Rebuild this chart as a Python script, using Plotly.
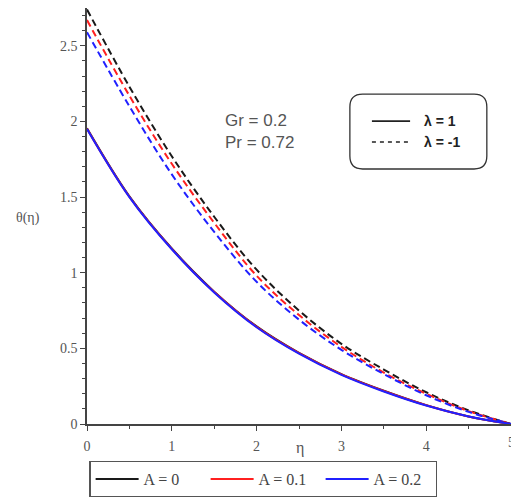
import plotly.graph_objects as go

eta = [0, 0.5, 1, 1.5, 2, 2.5, 3, 3.5, 4, 4.5, 5]

# lambda = 1 (solid)
theta_A0_l1 = [1.955, 1.505, 1.16, 0.875, 0.645, 0.47, 0.33, 0.22, 0.125, 0.05, 0]
theta_A01_l1 = [1.952, 1.502, 1.158, 0.872, 0.642, 0.468, 0.328, 0.218, 0.124, 0.05, 0]
theta_A02_l1 = [1.95, 1.50, 1.155, 0.87, 0.64, 0.465, 0.325, 0.215, 0.122, 0.05, 0]

# lambda = -1 (dashed)
theta_A0_lm1 = [2.74, 2.23, 1.77, 1.37, 1.02, 0.75, 0.53, 0.36, 0.21, 0.09, 0]
theta_A01_lm1 = [2.67, 2.17, 1.72, 1.33, 0.98, 0.72, 0.51, 0.34, 0.20, 0.085, 0]
theta_A02_lm1 = [2.59, 2.10, 1.65, 1.27, 0.94, 0.69, 0.49, 0.33, 0.19, 0.08, 0]

series_names = ["A = 0", "A = 0.1", "A = 0.2"]
colors = ["#1a1a1a", "#ff2020", "#2020ff"]
solid = [theta_A0_l1, theta_A01_l1, theta_A02_l1]
dashed = [theta_A0_lm1, theta_A01_lm1, theta_A02_lm1]

fig = go.Figure()
for name, c, ys in zip(series_names, colors, dashed):
    fig.add_trace(go.Scatter(x=eta, y=ys, mode="lines", line=dict(color=c, width=2, dash="7px,4px", shape="spline"),
                             showlegend=False, hoverinfo="skip"))
for name, c, ys in zip(series_names, colors, solid):
    fig.add_trace(go.Scatter(x=eta, y=ys, mode="lines", name=name,
                             line=dict(color=c, width=2, shape="spline")))

tickfont = dict(family="Liberation Serif", size=14, color="#555555")
axis_common = dict(showline=True, linecolor="#444444", linewidth=1.5, ticks="outside",
                   tickcolor="#444444", showgrid=False, zeroline=False, tickfont=tickfont)

fig.update_xaxes(range=[0, 5], dtick=1, ticklen=5, tickwidth=1.2, ticklabelstandoff=3,
                 minor=dict(dtick=0.5, ticks="outside", ticklen=3, tickcolor="#444444"),
                 **axis_common)
fig.update_yaxes(range=[0, 2.75], dtick=0.5, ticklen=5, tickwidth=1.2,
                 minor=dict(dtick=0.1, ticks="outside", ticklen=3, tickcolor="#444444"),
                 **axis_common)

# partially clipped last x tick label, as in the reference
fig.add_annotation(xref="x", yref="paper", x=5, y=0, yshift=-18, xanchor="center", yanchor="middle",
                   text="5", showarrow=False, font=tickfont)

# rounded box for lambda legend
x0, x1, y0, y1 = 0.620, 0.943, 0.613, 0.793
rx, ry = 0.03, 0.031
path = (f"M {x0+rx},{y1} L {x1-rx},{y1} Q {x1},{y1} {x1},{y1-ry} L {x1},{y0+ry} "
        f"Q {x1},{y0} {x1-rx},{y0} L {x0+rx},{y0} Q {x0},{y0} {x0},{y0+ry} L {x0},{y1-ry} "
        f"Q {x0},{y1} {x0+rx},{y1} Z")
fig.add_shape(type="path", path=path, xref="paper", yref="paper",
              line=dict(color="#333333", width=1.3))
fig.add_shape(type="line", xref="paper", yref="paper", x0=0.672, x1=0.762, y0=0.728, y1=0.728,
              line=dict(color="#222222", width=1.6))
fig.add_shape(type="line", xref="paper", yref="paper", x0=0.672, x1=0.762, y0=0.678, y1=0.678,
              line=dict(color="#222222", width=1.6, dash="4px,4px"))
fig.add_annotation(xref="paper", yref="paper", x=0.79, y=0.728, xanchor="left", yanchor="middle",
                   text="<b>λ = 1</b>", showarrow=False,
                   font=dict(family="Liberation Sans", size=14, color="#222222"))
fig.add_annotation(xref="paper", yref="paper", x=0.79, y=0.678, xanchor="left", yanchor="middle",
                   text="<b>λ = -1</b>", showarrow=False,
                   font=dict(family="Liberation Sans", size=14, color="#222222"))

fig.add_annotation(xref="paper", yref="paper", x=0.32, y=0.703, xanchor="left", yanchor="middle",
                   text="Gr = 0.2<br>Pr = 0.72", showarrow=False, align="left",
                   font=dict(family="Liberation Sans", size=17, color="#555555"))

# axis titles
fig.add_annotation(xref="paper", yref="paper", x=-0.172, y=0.496, xanchor="left", yanchor="middle",
                   text="θ(η)", showarrow=False,
                   font=dict(family="Liberation Serif", size=14, color="#555555"))
fig.add_annotation(xref="paper", yref="paper", x=0.502, y=-0.058, xanchor="center", yanchor="middle",
                   text="η", showarrow=False,
                   font=dict(family="Liberation Serif", size=16, color="#555555"))

fig.update_layout(
    width=511, height=497, autosize=False,
    margin=dict(l=87, r=0, t=8, b=73, autoexpand=False),
    plot_bgcolor="white", paper_bgcolor="white",
    legend=dict(orientation="h", x=0.005, y=-0.088, xanchor="left", yanchor="top",
                bordercolor="#555555", borderwidth=1.5, bgcolor="white",
                font=dict(family="Liberation Serif", size=16, color="#444444"),
                itemwidth=43, entrywidth=57, tracegroupgap=0),
)

fig.write_html("out.html", config={"displayModeBar": False},
               post_script="document.body.style.margin='0';document.body.style.overflow='hidden';")
